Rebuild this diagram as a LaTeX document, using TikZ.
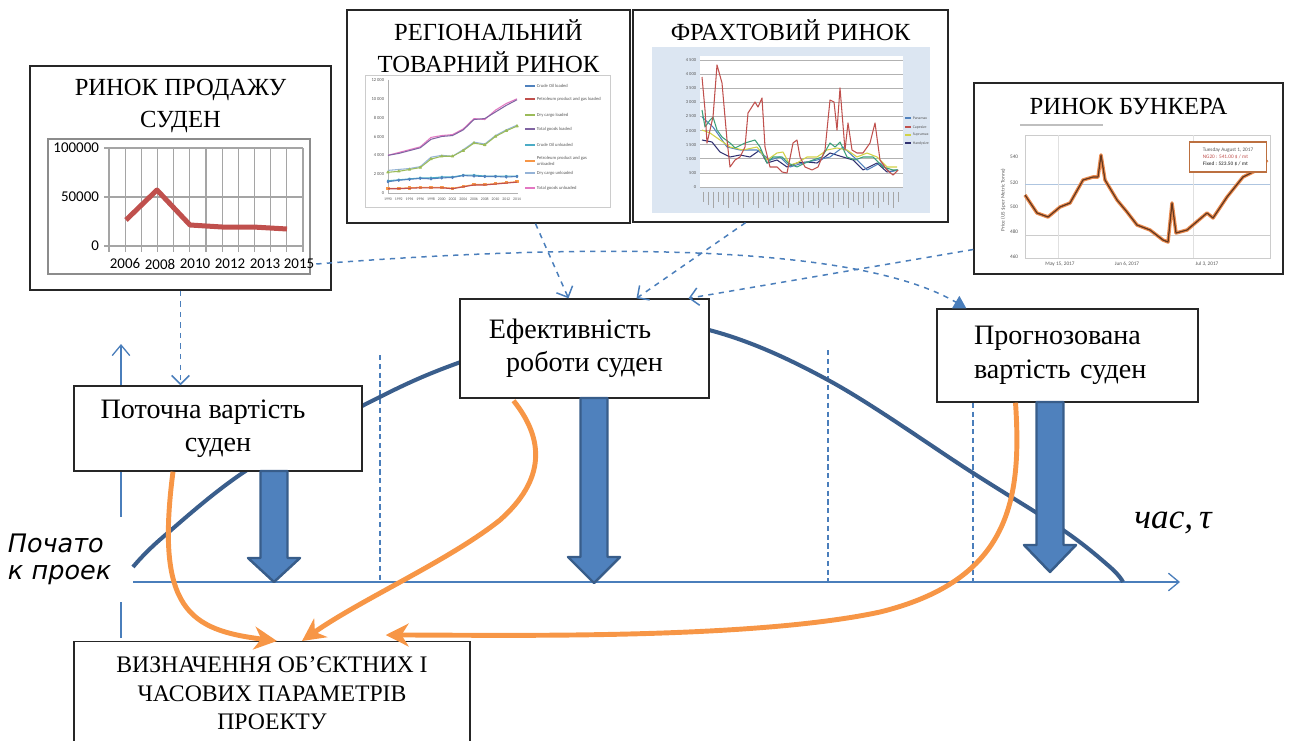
\documentclass[tikz,border=0pt]{standalone}
\usepackage{fontspec}
\setmainfont{Liberation Serif}
\newfontfamily\chartfont{Carlito}
\newfontfamily\startfont{DejaVu Sans}
\usetikzlibrary{calc,positioning,arrows.meta,plotmarks}

\definecolor{axisblue}{RGB}{74,126,187}
\definecolor{curveblue}{RGB}{58,94,140}
\definecolor{arrowfill}{RGB}{79,129,189}
\definecolor{arrowdraw}{RGB}{56,93,138}
\definecolor{orangeline}{RGB}{247,150,70}
\definecolor{chartred}{RGB}{192,80,77}
\definecolor{gridgray}{RGB}{165,165,165}
\definecolor{freightbg}{RGB}{220,230,242}
\definecolor{bunkerbrown}{RGB}{100,55,30}
\definecolor{bunkerglow}{RGB}{235,140,80}
\definecolor{cgreen}{RGB}{155,187,89}
\definecolor{cpurple}{RGB}{128,100,162}
\definecolor{ccyan}{RGB}{75,172,198}
\definecolor{clblue}{RGB}{149,179,215}
\definecolor{cpink}{RGB}{227,119,194}
\definecolor{fgreen}{RGB}{60,160,120}
\definecolor{fyellow}{RGB}{210,210,70}
\definecolor{fnavy}{RGB}{48,48,112}

\tikzset{
  box/.style={draw=black!85, line width=0.8pt, fill=white, inner sep=0pt},
  boxtext/.style={font=\fontsize{16}{19}\selectfont},
  mkttitle/.style={font=\fontsize{14}{18}\selectfont, align=center, inner sep=0pt},
  axisline/.style={axisblue, line width=0.75pt},
  divider/.style={axisblue, line width=0.6pt, densely dashed},
  dashconn/.style={axisblue, line width=0.85pt, dashed, -{Straight Barb[length=5pt,width=10pt]}},
  valcurve/.style={curveblue, line width=2.3pt},
  bigarrow/.style={fill=arrowfill, draw=arrowdraw, line width=1.4pt, line join=round},
  flow/.style={orangeline, line width=2.8pt, -{Stealth[length=13pt,width=13pt,inset=4pt]}},
  startlbl/.style={fill=white, font=\startfont\itshape\fontsize{14.5}{15.5}\selectfont, align=left,
    text width=22.6mm, inner sep=2pt, minimum height=17mm},
  timelbl/.style={font=\itshape\fontsize{20}{22}\selectfont},
  tick/.style={font=\chartfont\fontsize{8.5}{9}\selectfont, inner sep=1pt},
  tiny/.style={font=\chartfont\fontsize{2.6}{3}\selectfont, inner sep=0.3pt, text=black!65},
  series/.style={line width=0.6pt, line join=round},
}

\begin{document}
\begin{tikzpicture}[x=0.2mm, y=-0.2mm]
\useasboundingbox (0,0) rectangle (1291,740);

% axes and time stages
\draw[axisline, -{Straight Barb[length=6pt,width=10pt]}] (121,638) -- (121,344);
\draw[axisline, -{Straight Barb[length=6pt,width=10pt]}] (133,582) -- (1180,582);
\foreach \x/\y in {380/355, 828/350, 973/350}
  \draw[divider] (\x,\y) -- (\x,582);
\node[startlbl, anchor=west] (start) at (4,559) {Почато\\к проек};
\node[timelbl] (time) at (1173,523) {час,\,τ};

% vessel value over the project
\draw[valcurve] plot[smooth, tension=0.6] coordinates {(133,567) (163,537) (247,470) (362,406) (458,363)
  (600,320) (709,330) (828,380) (973,473) (1063,530) (1110,567) (1123,582)};

% sale market
\node[box, minimum width=60.2mm, minimum height=44.8mm] (b1) at (180.5,178) {};
\node[mkttitle, below=2.8mm of b1.north] (t1) {РИНОК ПРОДАЖУ\\СУДЕН};
\draw[black!45, line width=0.9pt] (48,139) rectangle (310,274);
\foreach \i in {0,...,12}
  \draw[gridgray, line width=0.7pt] ({109+16.17*\i},148) -- ({109+16.17*\i},252);
\foreach \v/\y in {100000/148, 50000/197, 0/246} {
  \draw[gridgray, line width=0.7pt] (104,\y) -- (303,\y);
  \node[tick, anchor=east] (v\v) at (101,\y) {\v};
}
\draw[chartred, line width=1mm, line join=round] (126,220) -- (157,190) -- (190,225) -- (222,227) -- (253,227) -- (287,229);
\foreach \yr/\x in {2006/125, 2008/160, 2010/195, 2012/230, 2013/265, 2015/299}
  \node[tick] (y\yr) at (\x,264) {\yr};

% regional cargo market
\node[box, minimum width=56.6mm, minimum height=42.6mm] (b2) at (488.5,116.5) {};
\node[mkttitle, below=2mm of b2.north] (t2) {РЕГІОНАЛЬНИЙ\\ТОВАРНИЙ РИНОК};
\draw[black!20, line width=0.4pt] (365,75) rectangle (610,207);
\foreach \v [count=\i] in {12 000,10 000,8 000,6 000,4 000,2 000,0}
  \node[tiny, anchor=east] (r\i) at (385,{80+18.83*(\i-1)}) {\v};
\foreach \yr [count=\i] in {1990,1992,...,2014}
  \node[tiny, font=\chartfont\fontsize{2.2}{2.5}\selectfont] (ry\yr) at ({388+10.75*(\i-1)},199) {\yr};
\draw[black!30, line width=0.3pt] (388,80) -- (388,193) -- (518,193);
\begin{scope}[shift={(388,193)}, x=2.15mm, y=1.884mm]
  \draw[series, cpink] plot coordinates {(0,4.0) (1,4.3) (2,4.6) (3,4.9) (4,5.9) (5,6.1) (6,6.2) (7,6.8) (8,7.9) (9,7.8) (10,8.8) (11,9.5) (12,10.0)};
  \draw[series, cpurple] plot coordinates {(0,4.0) (1,4.2) (2,4.5) (3,4.8) (4,5.7) (5,6.0) (6,6.1) (7,6.7) (8,7.8) (9,7.9) (10,8.6) (11,9.3) (12,9.9)};
  \draw[series, clblue] plot coordinates {(0,2.4) (1,2.5) (2,2.6) (3,2.8) (4,3.8) (5,4.0) (6,3.9) (7,4.6) (8,5.4) (9,5.2) (10,6.1) (11,6.7) (12,7.2)};
  \draw[series, cgreen, mark=triangle*, mark size=0.7pt] plot coordinates {(0,2.2) (1,2.3) (2,2.5) (3,2.7) (4,3.6) (5,3.9) (6,3.9) (7,4.5) (8,5.3) (9,5.1) (10,6.0) (11,6.6) (12,7.1)};
  \draw[series, ccyan, mark=x, mark size=0.7pt] plot coordinates {(0,1.3) (1,1.4) (2,1.5) (3,1.6) (4,1.6) (5,1.7) (6,1.7) (7,1.9) (8,1.9) (9,1.8) (10,1.8) (11,1.8) (12,1.8)};
  \draw[series, arrowfill, mark=diamond*, mark size=0.6pt] plot coordinates {(0,1.2) (1,1.35) (2,1.45) (3,1.55) (4,1.5) (5,1.6) (6,1.65) (7,1.85) (8,1.8) (9,1.75) (10,1.75) (11,1.7) (12,1.75)};
  \draw[series, orangeline, mark=square*, mark size=0.7pt] plot coordinates {(0,0.5) (1,0.5) (2,0.55) (3,0.6) (4,0.6) (5,0.6) (6,0.5) (7,0.7) (8,0.9) (9,0.9) (10,1.0) (11,1.1) (12,1.2)};
  \draw[series, chartred] plot coordinates {(0,0.45) (1,0.45) (2,0.5) (3,0.55) (4,0.55) (5,0.55) (6,0.45) (7,0.65) (8,0.85) (9,0.85) (10,0.95) (11,1.05) (12,1.15)};
\end{scope}
\foreach \c/\n/\y [count=\i] in {arrowfill/Crude Oil loaded/86, chartred/Petroleum product and gas loaded/99,
    cgreen/Dry cargo loaded/115, cpurple/Total goods loaded/129, ccyan/Crude Oil unloaded/145,
    orangeline/{Petroleum product and gas\\unloaded}/161, clblue/Dry cargo unloaded/173, cpink/Total goods unloaded/188} {
  \draw[\c, line width=0.6pt] (525,\y) -- (535,\y);
  \node[tiny, anchor=west, align=left] (lg\i) at (536,\y) {\n};
}

% freight market
\node[box, minimum width=63mm, minimum height=42.4mm] (b3) at (790.5,116) {};
\node[mkttitle, below=2mm of b3.north] (t3) {ФРАХТОВИЙ РИНОК};
\fill[freightbg] (652,47) rectangle (930,213);
\fill[white] (700,56) rectangle (903,187);
\foreach \i in {0,...,9}
  \draw[black!30, line width=0.4pt] (700,{60+14.11*\i}) -- (903,{60+14.11*\i});
\foreach \v [count=\i] in {4 500,4 000,3 500,3 000,2 500,2 000,1 500,1 000,500,0}
  \node[tiny, anchor=east] (f\i) at (697,{60+14.11*(\i-1)}) {\v};
\foreach \i in {0,...,39}
  \draw[black!35, line width=0.5pt] ({703+5*\i},192) -- ({703+5*\i},{202+mod(\i,3)*3});
\draw[series, fnavy] plot coordinates {(702,140) (712,142) (720,152) (730,157) (740,155) (750,157) (760,150) (767,163) (777,160) (787,167) (797,163) (807,162) (817,163) (830,153) (843,157) (853,160) (863,170) (877,163) (887,172) (897,170)};
\draw[series, arrowfill] plot coordinates {(702,117) (713,127) (727,147) (740,150) (757,150) (770,160) (780,157) (790,167) (803,163) (817,160) (830,157) (843,147) (857,160) (867,170) (880,163) (890,172) (898,170)};
\draw[series, fyellow] plot coordinates {(702,130) (710,133) (720,140) (730,147) (743,150) (757,147) (767,160) (777,153) (783,152) (790,165) (797,163) (807,157) (817,157) (827,150) (837,148) (847,150) (857,157) (867,153) (877,157) (887,167) (897,167)};
\draw[series, fgreen] plot coordinates {(702,110) (705,127) (710,120) (713,117) (717,130) (722,137) (730,143) (735,148) (745,143) (755,140) (760,147) (767,163) (773,157) (782,157) (788,163) (797,167) (805,163) (813,160) (822,157) (830,143) (835,147) (840,142) (847,157) (855,160) (863,157) (873,157) (883,167) (893,170) (898,170)};
\draw[series, chartred] plot coordinates {(702,77) (705,110) (707,143) (713,117) (717,65) (722,83) (727,140) (730,167) (735,160) (740,157) (745,147) (748,113) (755,102) (758,107) (762,98) (765,147) (770,167) (777,167) (782,172) (787,173) (793,143) (797,140) (800,157) (805,167) (812,170) (818,167) (825,150) (830,100) (834,102) (837,130) (840,88) (845,150) (848,123) (852,150) (857,153) (863,153) (870,143) (875,123) (880,160) (887,170) (893,175) (898,170)};
\foreach \c/\n/\y [count=\i] in {arrowfill/Panamax/118, chartred/Capesize/127, fyellow/Supramax/135, fnavy/Handysize/143} {
  \draw[\c, line width=0.6pt] (905,\y) -- (911,\y);
  \node[tiny, anchor=west, font=\chartfont\fontsize{2.2}{2.5}\selectfont] (fl\i) at (912,\y) {\n};
}

% bunker market
\node[box, minimum width=61.8mm, minimum height=38.2mm] (b4) at (1128.5,178.5) {};
\node[mkttitle, below=3.2mm of b4.north] (t4) {РИНОК БУНКЕРА};
\draw[black!25, line width=1pt] (1020,125) -- (1103,125);
\draw[black!20, line width=0.4pt] (1025,135) rectangle (1270,258);
\draw[axisblue!45, line width=0.5pt] (1025,184) -- (1270,184);
\draw[black!20, line width=0.5pt] (1025,235) -- (1270,235);
\draw[black!12, line width=0.5pt] (1058,135) -- (1058,258) (1193,135) -- (1193,258);
\foreach \v/\y in {540/157, 520/183, 500/207, 480/232, 460/257}
  \node[tiny, anchor=east, font=\chartfont\fontsize{3}{3.5}\selectfont] (p\v) at (1019,\y) {\v};
\node[tiny, rotate=90, font=\chartfont\fontsize{3}{3.5}\selectfont] (pax) at (1003,200) {Price (US \$ per Metric Tonne)};
\foreach \d/\x [count=\i] in {{May 15, 2017}/1060, {Jun 6, 2017}/1127, {Jul 3, 2017}/1207}
  \node[tiny, font=\chartfont\fontsize{3}{3.5}\selectfont] (pd\i) at (\x,264) {\d};
\draw[bunkerglow, line width=2pt, line join=round] plot coordinates {(1025,195) (1037,213) (1048,217) (1060,207) (1070,203) (1083,180) (1093,177) (1098,177) (1101,155) (1105,180) (1117,200) (1127,212) (1137,225) (1150,230) (1163,240) (1168,242) (1172,203) (1176,233) (1187,230) (1207,213) (1213,218) (1227,197) (1243,177) (1257,170) (1267,160)};
\draw[bunkerbrown, line width=0.7pt, line join=round] plot coordinates {(1025,195) (1037,213) (1048,217) (1060,207) (1070,203) (1083,180) (1093,177) (1098,177) (1101,155) (1105,180) (1117,200) (1127,212) (1137,225) (1150,230) (1163,240) (1168,242) (1172,203) (1176,233) (1187,230) (1207,213) (1213,218) (1227,197) (1243,177) (1257,170) (1267,160)};
\node[draw=bunkerglow!80!black, fill=white, line width=0.6pt, tiny, align=left, font=\chartfont\fontsize{3}{3.8}\selectfont,
  minimum width=15.4mm, minimum height=6mm] (tip) at (1228,157) {Tuesday August 1, 2017\\\textcolor{chartred}{NG20 : 541.00 \$ / mt}\\\textbf{Fixed : 523.50 \$ / mt}};

% vessel states
\node[box, boxtext, minimum width=57.6mm, minimum height=17mm, align=center] (b7) at (218,428.5) {\hspace*{-6mm}Поточна вартість\\суден};
\node[box, boxtext, minimum width=49.8mm, minimum height=19.8mm, align=center] (b5) at (584.5,348.5) {\hspace*{-5.8mm}Ефективність\\роботи суден};
\node[box, boxtext, minimum width=52.2mm, minimum height=18.6mm, text width=37.4mm, inner xsep=7.4mm, align=left] (b6) at (1067.5,355.5) {Прогнозована\\вартість суден};
\node[box, anchor=north, minimum width=79.2mm, inner ysep=3.1mm, text depth=8mm, align=center, font=\fontsize{13.5}{16}\selectfont] (b8) at (272,641) {ВИЗНАЧЕННЯ ОБ'ЄКТНИХ І\\ЧАСОВИХ ПАРАМЕТРІВ\\ПРОЕКТУ};

% market links
\draw[dashconn] (b1.south) -- (b1.south |- b7.north);
\draw[dashconn, -{Triangle[length=7pt,width=8pt]}] (y2015.east) .. controls (560,245) and (850,240) .. ($(b6.north west)+(30,0)$);
\draw[dashconn] ($(b2.south)+(47,0)$) -- ($(b5.north)+(-16,0)$);
\draw[dashconn] ($(b3.south)+(-45,0)$) -- ($(b5.north)+(52,0)$);
\draw[dashconn] ($(b4.west)+(0,71)$) -- ($(b5.north)+(104,0)$);

% influence on the time axis
\foreach \cx/\top/\neck/\tip in {274/471/558/582, 594/398/557/583, 1050/402/545/572}
  \draw[bigarrow] (\cx-13.5,\top) -- (\cx+13.5,\top) -- (\cx+13.5,\neck) -- (\cx+26,\neck) -- (\cx,\tip)
    -- (\cx-26,\neck) -- (\cx-13.5,\neck) -- cycle;

% feeding the project parameters
\draw[flow] ($(b7.south)+(-45,0)$) .. controls (155,610) and (190,630) .. ($(b8.north)+(5,0)$);
\draw[flow] ($(b5.south)+(-71,2)$) .. controls (545,440) and (545,480) .. (500,520)
  .. controls (450,560) and (360,600) .. ($(b8.north)+(30,0)$);
\draw[flow] ($(b6.south)+(-52,0)$) .. controls (1022,500) and (1010,580) .. (880,612)
  .. controls (750,640) and (500,635) .. ($(b8.north east)+(-85,-6)$);
\end{tikzpicture}
\end{document}
